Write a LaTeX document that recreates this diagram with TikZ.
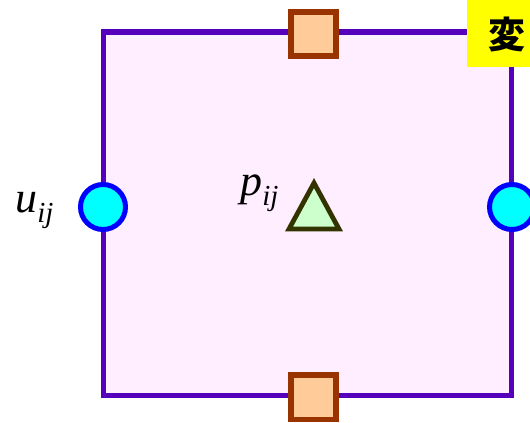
\documentclass[tikz,border=0pt]{standalone}
\usepackage{fontspec}
\setmainfont{Liberation Serif}
\newfontfamily\cjkfont{Noto Sans CJK JP}
\usetikzlibrary{positioning}

\definecolor{framepurple}{RGB}{85,0,187}
\definecolor{cellpink}{RGB}{255,238,255}
\definecolor{velborder}{RGB}{0,0,255}
\definecolor{velfill}{RGB}{0,255,255}
\definecolor{sqborder}{RGB}{153,51,0}
\definecolor{sqfill}{RGB}{255,204,153}
\definecolor{triborder}{RGB}{51,51,0}
\definecolor{trifill}{RGB}{204,255,204}
\definecolor{tagyellow}{RGB}{255,255,0}

\tikzset{
    velpoint/.style={circle, draw=velborder, fill=velfill, line width=0.1cm,
        minimum size=0.9cm, inner sep=0pt},
    fluxpoint/.style={rectangle, draw=sqborder, fill=sqfill, line width=0.12cm,
        minimum size=0.9cm, inner sep=0pt},
    varlabel/.style={anchor=base west, inner sep=0pt, font=\fontsize{25}{25}\selectfont\itshape}
}
\newcommand{\sub}[1]{\raisebox{-0.25em}{\fontsize{16.5}{16.5}\selectfont #1}}

\begin{document}
\begin{tikzpicture}[x=0.02cm, y=-0.02cm]
    \clip (0,0) rectangle (530,422);

    % Cell
    \draw[framepurple, fill=cellpink, line width=0.11cm] (103.5,32) rectangle (511.5,395.5);

    % Pressure point in the middle
    \draw[triborder, fill=trifill, line width=0.095cm, line join=miter]
        (314,183) -- (339,229) -- (289,229) -- cycle;
    \node[varlabel] (plabel) at (240,195) {p\sub{ij}};

    % Velocity points on the left and right faces
    \node[velpoint] (uwest) at (103,207) {};
    \node[velpoint] (ueast) at (512,207) {};
    \node[varlabel] (ulabel) at (15,212) {u\sub{ij}};

    % Points on the top and bottom faces
    \node[fluxpoint] (vnorth) at (313.5,34) {};
    \node[fluxpoint] (vsouth) at (313.5,397) {};

    % Tag in the corner
    \fill[tagyellow] (467,-10) rectangle (560,67);
    \node[inner sep=0pt] (tag) at (507,35) {\cjkfont\bfseries\fontsize{21}{21}\selectfont 変};
\end{tikzpicture}
\end{document}
